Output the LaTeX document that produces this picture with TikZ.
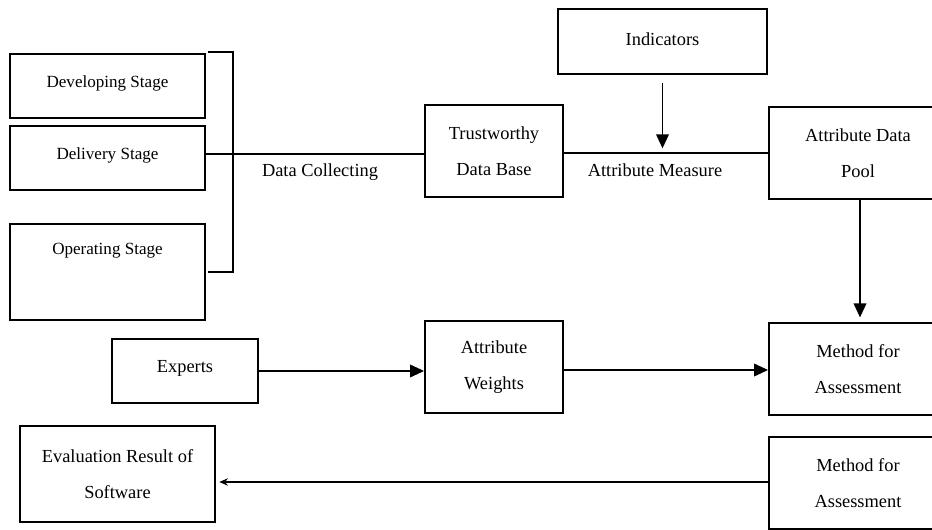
\documentclass[tikz,border=0pt]{standalone}
\usepackage{fontspec}
\setmainfont{Liberation Serif}
\usetikzlibrary{arrows.meta}
\newcommand\lblfont{\fontsize{13.8}{27}\selectfont}
\newcommand\stagefont{\fontsize{12.8}{15}\selectfont}
\begin{document}
\begin{tikzpicture}[x=0.75pt,y=-0.75pt,
  box/.style={draw, line width=1.4pt, inner sep=0pt, align=center, font=\lblfont},
  sz/.style 2 args={minimum width={#1*0.75pt}, minimum height={#2*0.75pt}},
  stagebox/.style={box, font=\stagefont},
  txt/.style={inner sep=0pt, align=center, font=\lblfont},
  conn/.style={line width=1.1pt},
  bigarrow/.style={conn, -{Triangle[length=10.5pt,width=9.5pt]}},
  smallarrow/.style={conn, -{Stealth[length=6.5pt,width=5.5pt]}}]
\useasboundingbox (0,0) rectangle (932,530);

% stage boxes on the left
\node[stagebox, sz={195}{64}] (dev) at (107.5,86) {};
\node[txt, font=\stagefont] (devtxt) at (107.5,83) {Developing Stage};
\node[stagebox, sz={195}{64}] (del) at (107.5,158) {};
\node[txt, font=\stagefont] (deltxt) at (107.5,155) {Delivery Stage};
\node[stagebox, sz={195}{96}] (op) at (107.5,272) {};
\node[txt, font=\stagefont] (optxt) at (107.5,251) {Operating Stage};

% bracket collecting the three stages
\coordinate (bt1) at (208,52);
\coordinate (bt2) at (233,52);
\coordinate (bb2) at (233,272);
\coordinate (bb1) at (208,272);
\draw[conn] (bt1) -- (bt2) -- (bb2) -- (bb1);

% upper row
\node[box, sz={138}{92}] (tdb) at (494,151) {Trustworthy\\Data Base};
\node[box, sz={209}{65}] (ind) at (662.5,41.5) {};
\node[txt] (indtxt) at (662.5,39) {Indicators};
\node[box, sz={178}{92}] (adp) at (858,153) {Attribute Data\\Pool};

\draw[conn] (del.east |- 0,154) -- (tdb.west |- 0,154);
\node[txt] (dc) at (320,172) {Data Collecting};
\draw[conn] (tdb.east |- adp.west) -- (adp.west);
\node[txt] (am) at (655,170) {Attribute Measure};
\draw[bigarrow, shorten <=6pt, shorten >=3.5pt] (ind.south) -- (ind.south |- adp.west);

% middle row
\node[box, sz={178}{92}] (m1) at (858,369) {Method for\\Assessment};
\node[box, sz={146}{64}] (ex) at (185,371) {};
\node[txt] (extxt) at (185,368) {Experts};
\node[box, sz={138}{92}] (aw) at (494,367) {Attribute\\Weights};

\draw[bigarrow, shorten >=3.5pt] (adp.south -| 860,0) -- (m1.north -| 860,0);
\draw[bigarrow] (ex.east) -- (ex.east -| aw.west);
\draw[bigarrow] (aw.east |- 0,370) -- (m1.west |- 0,370);

% bottom row
\node[box, sz={195}{96}] (ev) at (117.5,474) {Evaluation Result of\\Software};
\node[box, sz={178}{92}] (m2) at (858,483) {Method for\\Assessment};
\draw[smallarrow, shorten >=2.5pt] (m2.west |- 0,482) -- (ev.east |- 0,482);
\end{tikzpicture}
\end{document}
